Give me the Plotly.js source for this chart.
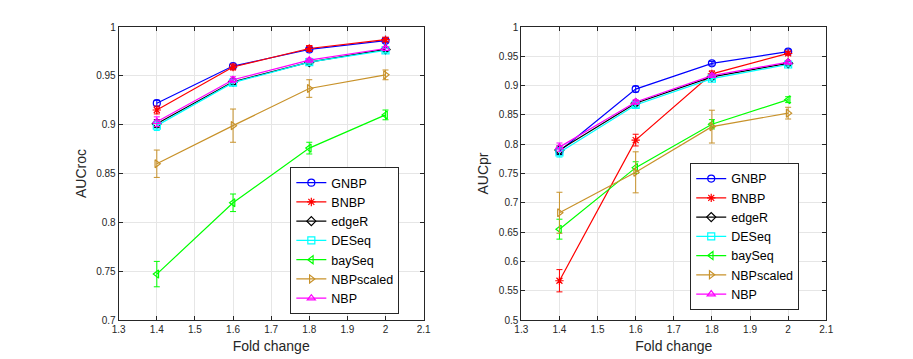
<!DOCTYPE html>
<html>
<head>
<meta charset="utf-8">
<script src="https://cdn.plot.ly/plotly-3.0.1.min.js"></script>
<style>html,body{margin:0;padding:0;background:#fff;}</style>
</head>
<body>
<div id="chart" style="width:913px;height:359px;"></div>
<script>
const foldChange = [1.4, 1.6, 1.8, 2.0];
const methods = ["GNBP", "BNBP", "edgeR", "DESeq", "baySeq", "NBPscaled", "NBP"];
const colors = ["#0000FF", "#FF0000", "#000000", "#00FFFF", "#00FF00", "#C8922A", "#FF00FF"];
const symbols = ["circle-open", "asterisk-open", "diamond-open", "square-open", "triangle-left-open", "triangle-right-open", "triangle-up-open"];

// AUCroc (left panel)
const rocGNBP      = [0.922, 0.960, 0.977, 0.986];
const rocBNBP      = [0.915, 0.959, 0.978, 0.987];
const rocEdgeR     = [0.901, 0.944, 0.964, 0.977];
const rocDESeq     = [0.899, 0.943, 0.964, 0.976];
const rocBaySeq    = [0.747, 0.820, 0.876, 0.910];
const rocNBPscaled = [0.860, 0.899, 0.937, 0.951];
const rocNBP       = [0.903, 0.946, 0.966, 0.978];
const rocErrGNBP      = [0.003, 0.002, 0.002, 0.002];
const rocErrBNBP      = [0.004, 0.003, 0.003, 0.002];
const rocErrEdgeR     = [0.004, 0.003, 0.002, 0.002];
const rocErrDESeq     = [0.005, 0.003, 0.002, 0.002];
const rocErrBaySeq    = [0.013, 0.009, 0.006, 0.005];
const rocErrNBPscaled = [0.014, 0.017, 0.009, 0.005];
const rocErrNBP       = [0.005, 0.003, 0.002, 0.002];

// AUCpr (right panel)
const prGNBP      = [0.788, 0.894, 0.938, 0.958];
const prBNBP      = [0.567, 0.807, 0.920, 0.955];
const prEdgeR     = [0.790, 0.870, 0.915, 0.938];
const prDESeq     = [0.786, 0.867, 0.912, 0.936];
const prBaySeq    = [0.655, 0.760, 0.834, 0.876];
const prNBPscaled = [0.683, 0.752, 0.830, 0.853];
const prNBP       = [0.795, 0.872, 0.917, 0.940];
const prErrGNBP      = [0.006, 0.005, 0.003, 0.003];
const prErrBNBP      = [0.019, 0.010, 0.005, 0.003];
const prErrEdgeR     = [0.007, 0.004, 0.003, 0.003];
const prErrDESeq     = [0.008, 0.004, 0.003, 0.003];
const prErrBaySeq    = [0.017, 0.010, 0.008, 0.005];
const prErrNBPscaled = [0.035, 0.035, 0.028, 0.010];
const prErrNBP       = [0.007, 0.004, 0.003, 0.003];

const rocSeries = [rocGNBP, rocBNBP, rocEdgeR, rocDESeq, rocBaySeq, rocNBPscaled, rocNBP];
const rocErrs = [rocErrGNBP, rocErrBNBP, rocErrEdgeR, rocErrDESeq, rocErrBaySeq, rocErrNBPscaled, rocErrNBP];
const prSeries = [prGNBP, prBNBP, prEdgeR, prDESeq, prBaySeq, prNBPscaled, prNBP];
const prErrs = [prErrGNBP, prErrBNBP, prErrEdgeR, prErrDESeq, prErrBaySeq, prErrNBPscaled, prErrNBP];

function makeTrace(i, ys, errs, xa, ya, leg) {
  return {
    x: foldChange, y: ys,
    xaxis: xa, yaxis: ya, legend: leg,
    type: "scatter", mode: "lines+markers",
    name: methods[i],
    line: {color: colors[i], width: 1.2},
    marker: {symbol: symbols[i], size: 7, color: colors[i], line: {color: colors[i], width: 1.2}},
    error_y: {type: "data", array: errs, visible: true, color: colors[i], thickness: 1, width: 3}
  };
}

let traces = [];
for (let i = 0; i < methods.length; i++) traces.push(makeTrace(i, rocSeries[i], rocErrs[i], "x", "y", "legend"));
for (let i = 0; i < methods.length; i++) traces.push(makeTrace(i, prSeries[i], prErrs[i], "x2", "y2", "legend2"));

const tickFont = {family: "Liberation Sans, Arial, sans-serif", size: 10, color: "#262626"};
const titleFont = {family: "Liberation Sans, Arial, sans-serif", size: 14, color: "#262626"};
const axBase = {
  showline: true, mirror: "ticks", linecolor: "#262626", linewidth: 1,
  ticks: "inside", ticklen: 4, tickcolor: "#262626",
  showgrid: true, gridcolor: "#e6e6e6", zeroline: false,
  tickfont: tickFont
};
const legBase = {
  bgcolor: "#ffffff", bordercolor: "#262626", borderwidth: 1,
  font: {family: "Liberation Sans, Arial, sans-serif", size: 12.5, color: "#000"},
  xanchor: "left", yanchor: "top", tracegroupgap: 0, itemwidth: 30
};

const layout = {
  width: 913, height: 359,
  margin: {l: 0, r: 0, t: 27, b: 39},
  paper_bgcolor: "#ffffff", plot_bgcolor: "#ffffff",
  xaxis: Object.assign({}, axBase, {domain: [0.130, 0.464], range: [1.3, 2.1], dtick: 0.1, tick0: 1.3, anchor: "y",
    title: {text: "Fold change", font: titleFont, standoff: 7}}),
  yaxis: Object.assign({}, axBase, {domain: [0, 1], range: [0.7, 1], dtick: 0.05, tick0: 0.7, anchor: "x",
    title: {text: "AUCroc", font: titleFont, standoff: 6}}),
  xaxis2: Object.assign({}, axBase, {domain: [0.571, 0.905], range: [1.3, 2.1], dtick: 0.1, tick0: 1.3, anchor: "y2",
    title: {text: "Fold change", font: titleFont, standoff: 7}}),
  yaxis2: Object.assign({}, axBase, {domain: [0, 1], range: [0.5, 1], dtick: 0.05, tick0: 0.5, anchor: "x2",
    title: {text: "AUCpr", font: titleFont, standoff: 6}}),
  legend: Object.assign({}, legBase, {x: 0.318, y: 0.522}),
  legend2: Object.assign({}, legBase, {x: 0.756, y: 0.536})
};

Plotly.newPlot("chart", traces, layout, {displayModeBar: false, staticPlot: true});
</script>
</body>
</html>
